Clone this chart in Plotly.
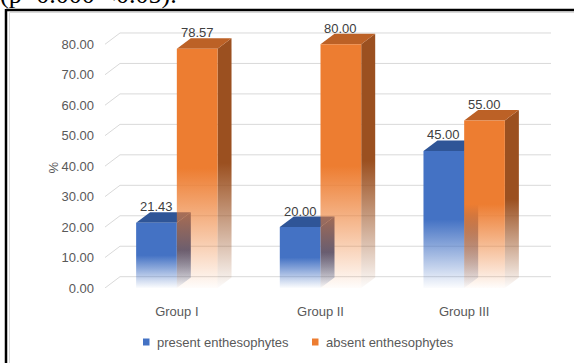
import plotly.graph_objects as go

# ---- data ----
categories = ["Group I", "Group II", "Group III"]
present = [21.43, 20.00, 45.00]
absent = [78.57, 80.00, 55.00]
series_names = ["present enthesophytes", "absent enthesophytes"]
y_ticks = [0, 10, 20, 30, 40, 50, 60, 70, 80]

# ---- geometry (pixels) ----
FIG_W, FIG_H = 574, 363
M_L, M_R, M_T, M_B = 105, 23, 26, 75
PLOT_W = FIG_W - M_L - M_R
PLOT_H = FIG_H - M_T - M_B
WALL_DX_PX, WALL_DY_PX = 15, 11.3   # depth of back wall / floor
BAR_DX_PX, BAR_DY_PX = 14, 10.5     # depth of each 3D column
BAR_W_PX = 40.7
Y_MAX = 86

cat_px = (PLOT_W - WALL_DX_PX) / len(categories)
X_MIN = -0.5
X_MAX = len(categories) - 0.5 + WALL_DX_PX / cat_px
y_px = PLOT_H / Y_MAX

wall_dx = WALL_DX_PX / cat_px
wall_dy = WALL_DY_PX / y_px
bar_dx = BAR_DX_PX / cat_px
bar_dy = BAR_DY_PX / y_px
bar_w = BAR_W_PX / cat_px

TEXT_FONT = "Liberation Sans"
TEXT_GREY = "#595959"


def paper_x(px):
    return (px - M_L) / PLOT_W


def paper_y(py):
    return 1 - (py - M_T) / PLOT_H


def rgba(rgb, a):
    return f"rgba({rgb[0]},{rgb[1]},{rgb[2]},{a})"


# front / top / side colours per series
styles = [
    dict(front=(68, 114, 196), top=(47, 85, 151), side=(46, 79, 140)),
    dict(front=(237, 125, 49), top=(188, 97, 38), side=(155, 80, 32)),
]


def fade(rgb):
    return [[0, rgba(rgb, 0.02)], [0.5, rgba(rgb, 1)], [1, rgba(rgb, 1)]]


fig = go.Figure()

series_values = [present, absent]
offsets = [-1, 0]

for k in range(len(categories)):
    for s, vals in enumerate(series_values):
        v = vals[k]
        st = styles[s]
        x0 = k + offsets[s] * bar_w
        x1 = x0 + bar_w
        # right side face
        fig.add_trace(go.Scatter(
            x=[x1, x1 + bar_dx, x1 + bar_dx, x1, x1],
            y=[0, bar_dy, v + bar_dy, v, 0],
            mode="lines", line=dict(width=0), fill="toself",
            fillgradient=dict(type="vertical", colorscale=fade(st["side"])),
            hoverinfo="skip", showlegend=False))
        # top face
        fig.add_trace(go.Scatter(
            x=[x0, x1, x1 + bar_dx, x0 + bar_dx, x0],
            y=[v, v, v + bar_dy, v + bar_dy, v],
            mode="lines", line=dict(width=0), fill="toself",
            fillcolor=rgba(st["top"], 1),
            hoverinfo="skip", showlegend=False))
        # front face
        fig.add_trace(go.Scatter(
            x=[x0, x1, x1, x0, x0],
            y=[0, 0, v, v, 0],
            mode="lines", line=dict(width=0), fill="toself",
            fillgradient=dict(type="vertical", colorscale=fade(st["front"])),
            hoverinfo="skip", showlegend=False))
        # value label
        fig.add_annotation(
            x=(x0 + x1) / 2, y=v + bar_dy, xref="x", yref="y",
            text=f"{v:.2f}", showarrow=False, yanchor="bottom", yshift=-4,
            font=dict(family=TEXT_FONT, size=13, color="#404040"))

# back wall gridlines with the perspective corner
shapes = []
for t in y_ticks:
    shapes.append(dict(
        type="path", xref="x", yref="y", layer="below",
        path=(f"M {X_MIN},{t} L {X_MIN + wall_dx},{t + wall_dy} "
              f"L {X_MAX},{t + wall_dy}"),
        line=dict(color="#D9D9D9", width=1)))

# legend: small swatch + series name
legend_swatch_px = [143, 312]
LEGEND_Y_PX = 342
for s, name in enumerate(series_names):
    sx = legend_swatch_px[s]
    shapes.append(dict(
        type="rect", xref="paper", yref="paper",
        x0=paper_x(sx), x1=paper_x(sx + 6.5),
        y0=paper_y(LEGEND_Y_PX + 3.5), y1=paper_y(LEGEND_Y_PX - 3.5),
        fillcolor=rgba(styles[s]["front"], 1), line=dict(width=0)))
    fig.add_annotation(
        x=paper_x(sx + 11.5), y=paper_y(LEGEND_Y_PX), xref="paper", yref="paper",
        xanchor="left", yanchor="middle", text=name, showarrow=False,
        font=dict(family=TEXT_FONT, size=13, color=TEXT_GREY))

# outer frame
shapes += [
    dict(type="line", xref="paper", yref="paper",
         x0=paper_x(6), x1=paper_x(640), y0=paper_y(10), y1=paper_y(10),
         line=dict(color="black", width=2.5)),
    dict(type="line", xref="paper", yref="paper",
         x0=paper_x(6), x1=paper_x(6), y0=paper_y(9), y1=paper_y(420),
         line=dict(color="black", width=2.5)),
    dict(type="line", xref="paper", yref="paper",
         x0=paper_x(9.5), x1=paper_x(640), y0=paper_y(12.5), y1=paper_y(12.5),
         line=dict(color="#D9D9D9", width=1)),
    dict(type="line", xref="paper", yref="paper",
         x0=paper_x(9.5), x1=paper_x(9.5), y0=paper_y(12.5), y1=paper_y(420),
         line=dict(color="#D9D9D9", width=1)),
]

fig.add_annotation(
    x=paper_x(43), y=paper_y(167), xref="paper", yref="paper",
    text="%", textangle=-90, showarrow=False,
    font=dict(family=TEXT_FONT, size=13, color=TEXT_GREY))

fig.add_annotation(
    x=paper_x(-2), y=paper_y(-5), xref="paper", yref="paper",
    xanchor="left", yanchor="middle",
    text="(p=0.000 <0.05).", showarrow=False,
    font=dict(family="Liberation Serif", size=26, color="black"))

fig.update_layout(
    width=FIG_W, height=FIG_H,
    margin=dict(l=M_L, r=M_R, t=M_T, b=M_B, pad=0),
    paper_bgcolor="white", plot_bgcolor="white",
    shapes=shapes,
    showlegend=False,
    xaxis=dict(range=[X_MIN, X_MAX], tickvals=list(range(len(categories))),
               ticktext=categories, showgrid=False, zeroline=False,
               showline=False, ticks="", ticklabelstandoff=14,
               tickfont=dict(family=TEXT_FONT, size=13, color=TEXT_GREY)),
    yaxis=dict(range=[0, Y_MAX], tickvals=y_ticks, tickformat=".2f",
               showgrid=False, zeroline=False, showline=False, ticks="",
               ticklabelstandoff=10,
               tickfont=dict(family=TEXT_FONT, size=13, color=TEXT_GREY)),
)

fig.write_html("out.html")
